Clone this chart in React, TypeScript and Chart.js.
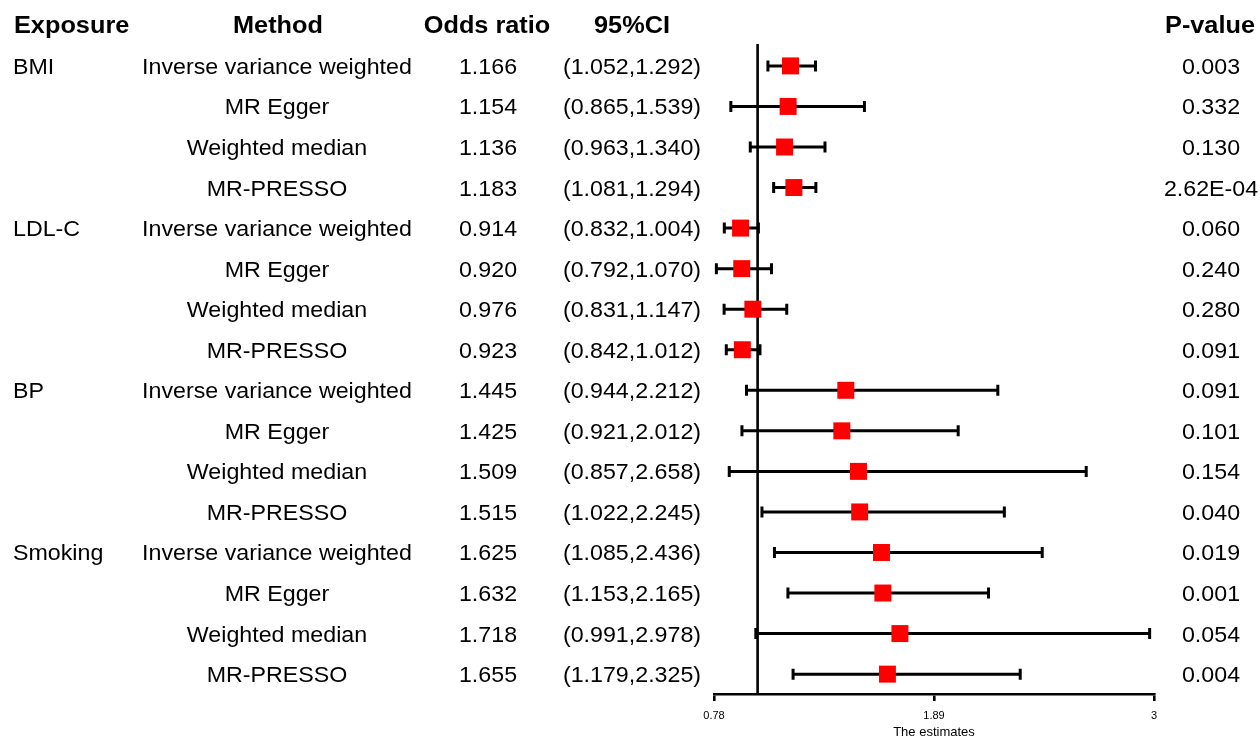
import React, { useEffect, useRef } from "react";
import { Chart, registerables } from "chart.js";

Chart.register(...registerables);

const exposures = ["BMI", "LDL-C", "BP", "Smoking"];
const methods = ["Inverse variance weighted", "MR Egger", "Weighted median", "MR-PRESSO"];
const oddsRatios = [
  1.166, 1.154, 1.136, 1.183,
  0.914, 0.92, 0.976, 0.923,
  1.445, 1.425, 1.509, 1.515,
  1.625, 1.632, 1.718, 1.655,
];
const ciLower = [
  1.052, 0.865, 0.963, 1.081,
  0.832, 0.792, 0.831, 0.842,
  0.944, 0.921, 0.857, 1.022,
  1.085, 1.153, 0.991, 1.179,
];
const ciUpper = [
  1.292, 1.539, 1.34, 1.294,
  1.004, 1.07, 1.147, 1.012,
  2.212, 2.012, 2.658, 2.245,
  2.436, 2.165, 2.978, 2.325,
];
const pValues = [
  "0.003", "0.332", "0.130", "2.62E-04",
  "0.060", "0.240", "0.280", "0.091",
  "0.091", "0.101", "0.154", "0.040",
  "0.019", "0.001", "0.054", "0.004",
];
const headers = ["Exposure", "Method", "Odds ratio", "95%CI", "P-value"];
const xTicks = [0.78, 1.89, 3];
const xTickLabels = ["0.78", "1.89", "3"];
const referenceValue = 1;
const xTitle = "The estimates";

const FONT = '"Liberation Sans", Arial, Helvetica, sans-serif';

function drawText(
  ctx: CanvasRenderingContext2D,
  text: string,
  x: number,
  y: number,
  align: CanvasTextAlign,
  font: string,
  sx: number
) {
  ctx.save();
  ctx.translate(x, y);
  ctx.scale(sx, 1);
  ctx.font = font;
  ctx.textAlign = align;
  ctx.textBaseline = "alphabetic";
  ctx.fillStyle = "#000";
  ctx.fillText(text, 0, 0);
  ctx.restore();
}

const forestPlugin = {
  id: "forest",
  beforeDatasetsDraw(chart: any) {
    const ctx = chart.ctx as CanvasRenderingContext2D;
    const xs = chart.scales.x;
    const ys = chart.scales.y;
    const area = chart.chartArea;
    const rx = xs.getPixelForValue(referenceValue);
    ctx.save();
    ctx.strokeStyle = "#000";
    ctx.lineWidth = 2.6;
    ctx.beginPath();
    ctx.moveTo(rx, area.top);
    ctx.lineTo(rx, area.bottom);
    ctx.stroke();
    ctx.lineWidth = 3;
    ctx.lineCap = "butt";
    for (let i = 0; i < oddsRatios.length; i++) {
      const y = ys.getPixelForValue(i);
      const x1 = xs.getPixelForValue(ciLower[i]);
      const x2 = xs.getPixelForValue(ciUpper[i]);
      ctx.beginPath();
      ctx.moveTo(x1, y);
      ctx.lineTo(x2, y);
      ctx.stroke();
      ctx.beginPath();
      ctx.moveTo(x1, y - 5.5);
      ctx.lineTo(x1, y + 5.5);
      ctx.moveTo(x2, y - 5.5);
      ctx.lineTo(x2, y + 5.5);
      ctx.stroke();
    }
    ctx.restore();
  },
  afterDraw(chart: any) {
    const ctx = chart.ctx as CanvasRenderingContext2D;
    const ys = chart.scales.y;
    const bodyFont = `21.5px ${FONT}`;
    const boldFont = `bold 23px ${FONT}`;
    const sx = 1.08;
    const sxb = 1.1;
    const off = 8;
    const hy = ys.getPixelForValue(-1) + off;
    drawText(ctx, headers[0], 14, hy, "left", boldFont, sxb);
    drawText(ctx, headers[1], 278, hy, "center", boldFont, sxb);
    drawText(ctx, headers[2], 487, hy, "center", boldFont, sxb);
    drawText(ctx, headers[3], 632, hy, "center", boldFont, sxb);
    drawText(ctx, headers[4], 1210, hy, "center", boldFont, sxb);
    for (let i = 0; i < oddsRatios.length; i++) {
      const y = ys.getPixelForValue(i) + off;
      const m = i % methods.length;
      if (m === 0) {
        drawText(ctx, exposures[Math.floor(i / methods.length)], 13, y, "left", bodyFont, sx);
      }
      drawText(ctx, methods[m], 277, y, "center", bodyFont, sx);
      drawText(ctx, oddsRatios[i].toFixed(3), 488, y, "center", bodyFont, sx);
      drawText(
        ctx,
        `(${ciLower[i].toFixed(3)},${ciUpper[i].toFixed(3)})`,
        632,
        y,
        "center",
        bodyFont,
        sx
      );
      drawText(ctx, pValues[i], 1211, y, "center", bodyFont, sx);
    }
  },
};

export default function App() {
  const ref = useRef<HTMLCanvasElement | null>(null);
  useEffect(() => {
    if (!ref.current) return;
    const n = oddsRatios.length;
    const chart = new Chart(ref.current, {
      type: "scatter",
      data: {
        datasets: [
          {
            label: "Odds ratio",
            data: oddsRatios.map((v, i) => ({ x: v, y: i })),
            pointStyle: "rect",
            pointRadius: 12,
            pointHoverRadius: 12,
            backgroundColor: "#FF0000",
            borderWidth: 0,
          },
        ],
      },
      options: {
        animation: false,
        responsive: true,
        maintainAspectRatio: false,
        events: [],
        layout: { padding: { left: 714, right: 106, top: 44, bottom: 0 } },
        plugins: {
          legend: { display: false },
          tooltip: { enabled: false },
          title: { display: false },
        },
        scales: {
          y: {
            type: "linear",
            display: false,
            reverse: true,
            min: -0.54,
            max: n - 1 + 0.49,
          },
          x: {
            type: "linear",
            min: xTicks[0],
            max: xTicks[xTicks.length - 1],
            afterBuildTicks: (scale: any) => {
              scale.ticks = xTicks.map((v) => ({ value: v }));
            },
            afterFit: (scale: any) => {
              scale.height = 42;
            },
            border: { display: true, color: "#000", width: 2.6 },
            grid: {
              display: true,
              drawOnChartArea: false,
              drawTicks: true,
              tickLength: 7,
              tickWidth: 2.6,
              color: "#000",
              lineWidth: 2.6,
            },
            ticks: {
              autoSkip: false,
              maxRotation: 0,
              padding: 8,
              color: "#000",
              font: { family: FONT, size: 11 },
              callback: (value: any) => {
                const idx = xTicks.indexOf(Number(value));
                return idx >= 0 ? xTickLabels[idx] : "";
              },
            },
            title: {
              display: true,
              text: xTitle,
              color: "#000",
              font: { family: FONT, size: 13 },
              padding: { top: 0, bottom: -4 },
            },
          },
        },
      } as any,
      plugins: [forestPlugin],
    });
    return () => chart.destroy();
  }, []);
  return (
    <div style={{ position: "absolute", left: 0, top: 0, width: 1260, height: 736, background: "#fff" }}>
      <canvas ref={ref} />
    </div>
  );
}
